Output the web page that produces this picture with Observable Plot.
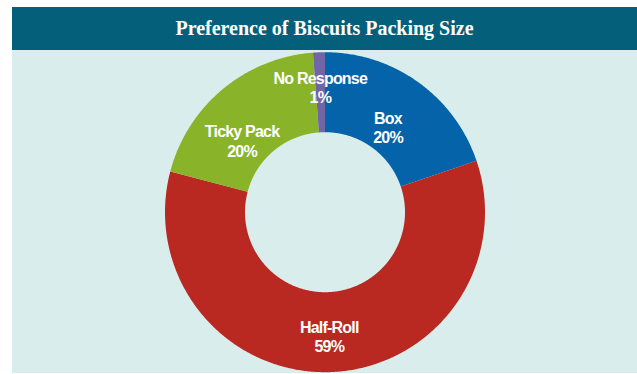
<!DOCTYPE html>
<html>
<head>
<meta charset="utf-8">
<script src="https://cdn.jsdelivr.net/npm/d3@7"></script>
<script src="https://cdn.jsdelivr.net/npm/@observablehq/plot@0.6"></script>
<style>
  html, body { margin: 0; padding: 0; background: #ffffff; }
  #wrap { position: absolute; left: 12px; top: 7px; width: 625px; }
  #title { height: 43px; line-height: 43px; background: #04607a; color: #ffffff; text-align: center;
           font-family: "Liberation Serif", "Times New Roman", serif; font-weight: bold; font-size: 20px; }
  #chart svg { display: block; background: #d9eeec; }
  #chart svg text { letter-spacing: -0.8px; }
</style>
</head>
<body>
<div id="wrap">
  <div id="title">Preference of Biscuits Packing Size</div>
  <div id="chart"></div>
</div>
<script>
// ---- data ----
const categories = ["Box", "Half-Roll", "Ticky Pack", "No Response"];
const shares = [19.8, 59.3, 19.7, 1.2];
const colors = ["#0563aa", "#ba2822", "#89b42a", "#7265a6"];

// ---- layout (style) ----
const innerR = 0.5, outerR = 1;
const labelPlace = {
  "Box": {r: 0.66, da: 1},
  "Half-Roll": {r: 0.775, da: 0},
  "Ticky Pack": {r: 0.685, da: -9.4},
  "No Response": {r: 0.78, da: 0}
};

const total = d3.sum(shares);
let acc = 0;
const slices = categories.map((c, i) => {
  const a0 = acc / total * 360;
  acc += shares[i];
  const a1 = acc / total * 360;
  return {cat: c, value: shares[i], a0, a1};
});
const rad = a => a * Math.PI / 180;
const pts = [];
for (const s of slices) {
  const n = Math.max(8, Math.ceil((s.a1 - s.a0) * 2));
  for (let k = 0; k <= n; k++) {
    const a = rad(s.a0 + (s.a1 - s.a0) * k / n);
    pts.push({cat: s.cat, x: outerR * Math.sin(a), y: outerR * Math.cos(a)});
  }
  for (let k = n; k >= 0; k--) {
    const a = rad(s.a0 + (s.a1 - s.a0) * k / n);
    pts.push({cat: s.cat, x: innerR * Math.sin(a), y: innerR * Math.cos(a)});
  }
}
const labels = slices.map(s => {
  const p = labelPlace[s.cat];
  const a = rad((s.a0 + s.a1) / 2 + p.da);
  return {x: p.r * Math.sin(a), y: p.r * Math.cos(a), text: s.cat + "\n" + Math.round(s.value) + "%"};
});

const chart = Plot.plot({
  width: 625,
  height: 323,
  margin: 0,
  style: {background: "#d9eeec", overflow: "visible"},
  x: {domain: [-1, 1], range: [152.5, 472.5], axis: null},
  y: {domain: [-1, 1], range: [321.7, 1.7], axis: null},
  color: {domain: categories, range: colors},
  marks: [
    Plot.line(pts, {x: "x", y: "y", z: "cat", fill: "cat", stroke: "none", curve: "linear"}),
    Plot.text(labels, {x: "x", y: "y", text: "text", fill: "#ffffff", fontWeight: "bold",
      fontSize: 16, lineHeight: 1.22, lineAnchor: "middle",
      fontFamily: "'Liberation Sans', Arial, sans-serif"})
  ]
});
document.getElementById("chart").appendChild(chart);
</script>
</body>
</html>
